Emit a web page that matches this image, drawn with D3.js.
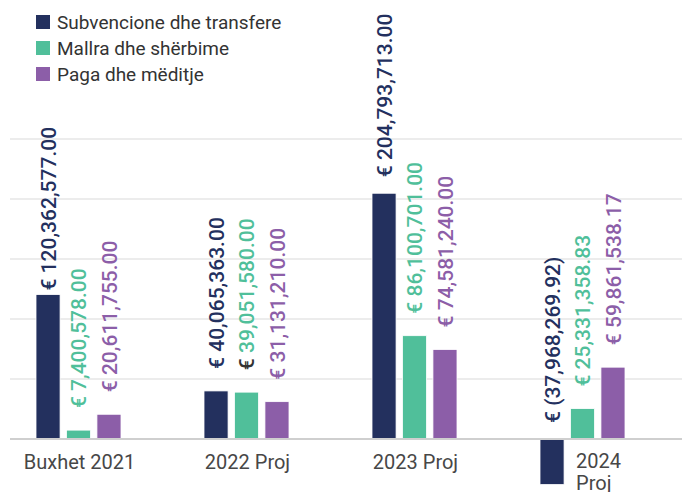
<!DOCTYPE html>
<html>
<head>
<meta charset="utf-8">
<script src="https://cdn.jsdelivr.net/npm/d3@7"></script>
<style>
  body { margin: 0; background: #fff; }
  svg { display: block; }
</style>
</head>
<body>
<svg id="chart" width="686" height="492"></svg>
<script>
// data
var categories = ["Buxhet 2021", "2022 Proj", "2023 Proj", "2024 Proj"];
var seriesNames = ["Subvencione dhe transfere", "Mallra dhe shërbime", "Paga dhe mëditje"];
var subvencione = [120362577.00, 40065363.00, 204793713.00, -37968269.92];
var mallra = [7400578.00, 39051580.00, 86100701.00, 25331358.83];
var paga = [20611755.00, 31131210.00, 74581240.00, 59861538.17];
var gridTicks = [50e6, 100e6, 150e6, 200e6, 250e6];

var colors = ["#23305e", "#50bf9a", "#8c5ea8"];
var allSeries = [subvencione, mallra, paga];

var svg = d3.select("#chart");

var x0 = d3.scaleBand().domain(categories).range([10, 682]);
var x1 = d3.scaleBand().domain(seriesNames).range([26, 111]).paddingInner(0.21);
var y = d3.scaleLinear().domain([0, 250e6]).range([439, 139]);

// gridlines
svg.append("g").selectAll("line")
  .data(gridTicks)
  .enter().append("line")
  .attr("x1", 10).attr("x2", 682)
  .attr("y1", function(d){ return y(d); })
  .attr("y2", function(d){ return y(d); })
  .attr("stroke", "#d9d9d9").attr("stroke-width", 1);

// flatten for bars
var rows = [];
categories.forEach(function(c, i){
  seriesNames.forEach(function(s, j){
    rows.push({cat: c, ci: i, ser: s, si: j, value: allSeries[j][i]});
  });
});

svg.append("g").selectAll("rect")
  .data(rows)
  .enter().append("rect")
  .attr("x", function(d){ return x0(d.cat) + x1(d.ser); })
  .attr("width", x1.bandwidth())
  .attr("y", function(d){ return y(Math.max(0, d.value)); })
  .attr("height", function(d){ return Math.abs(y(d.value) - y(0)); })
  .attr("fill", function(d){ return colors[d.si]; })
  .attr("stroke", "#fff").attr("stroke-width", 0.8);

// baseline
svg.append("line")
  .attr("x1", 10).attr("x2", 682)
  .attr("y1", y(0)).attr("y2", y(0))
  .attr("stroke", "#cfcfcf").attr("stroke-width", 2);

// value labels
var fmt = d3.format(",.2f");
function labelText(v){ return v < 0 ? "(" + fmt(-v) + ")" : fmt(v); }
// hand nudges seen in the original (label gap above bar top)
var labelGap = { "0|0": 4, "2|0": 16, "3|0": 16 };

var labels = svg.append("g").selectAll("text")
  .data(rows)
  .enter().append("text")
  .attr("transform", function(d){
    var cx = x0(d.cat) + x1(d.ser) + x1.bandwidth() / 2;
    var gap = labelGap[d.ci + "|" + d.si];
    if (gap === undefined) gap = 22;
    var top = y(Math.max(0, d.value));
    return "translate(" + cx + "," + (top - gap) + ") rotate(-90)";
  })
  .attr("dy", "0.36em")
  .attr("text-anchor", "start")
  .attr("font-family", "Roboto, sans-serif")
  .attr("font-size", 21)
  .attr("font-weight", 500)
  .attr("fill", function(d){ return colors[d.si]; });

labels.append("tspan")
  .attr("fill", function(d){ return (d.ci === 1 && d.si === 1) ? "#333" : null; })
  .text("€ ");
labels.append("tspan").text(function(d){ return labelText(d.value); });

// category labels
var axisG = svg.append("g")
  .attr("font-family", "Roboto, sans-serif")
  .attr("font-size", 20)
  .attr("fill", "#474747");

categories.forEach(function(c, i){
  var center = x0(c) + (x1.range()[0] + x1.range()[1]) / 2 + 1;
  var hasNeg = allSeries.some(function(s){ return s[i] < 0; });
  if (!hasNeg) {
    axisG.append("text")
      .attr("x", center).attr("y", 469)
      .attr("text-anchor", "middle")
      .text(c);
  } else {
    var left = x0(c) + x1(seriesNames[0]) + x1.bandwidth() + 12;
    var t = axisG.append("text").attr("text-anchor", "start");
    c.split(" ").forEach(function(w, k){
      t.append("tspan").attr("x", left).attr("y", 468 + k * 22).text(w);
    });
  }
});

// legend
var legend = svg.append("g")
  .attr("font-family", "Roboto, sans-serif")
  .attr("font-size", 19)
  .attr("fill", "#333");

seriesNames.forEach(function(s, j){
  var g = legend.append("g").attr("transform", "translate(36," + (15 + j * 26) + ")");
  g.append("rect").attr("width", 14).attr("height", 14).attr("fill", colors[j]);
  g.append("text").attr("x", 21).attr("y", 14).text(s);
});
</script>
</body>
</html>
